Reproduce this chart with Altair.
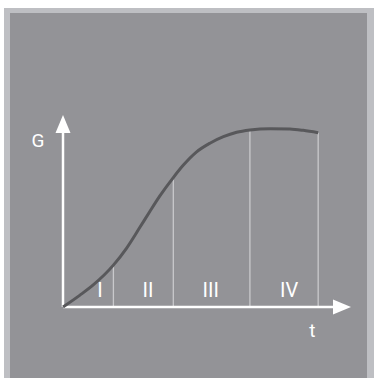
import altair as alt
import pandas as pd

# Growth curve G(t) sampled along the time axis
curve_t = [0.0, 0.59, 1.05, 1.75, 2.21, 2.67, 3.02, 3.37, 3.83, 4.18, 4.64,
           5.10, 5.57, 6.03, 6.49, 7.19, 7.88, 8.34, 8.86]
curve_g = [0.0, 0.62, 1.15, 2.18, 3.07, 4.15, 4.99, 5.80, 6.74, 7.39, 8.08,
           8.53, 8.87, 9.10, 9.22, 9.29, 9.27, 9.20, 9.08]

# Phase boundaries (drawn from the axis up to the curve)
divider_t = [1.75, 3.83, 6.49, 8.86]
divider_g = [2.18, 6.74, 9.22, 9.08]

# Phase labels
phase_names = ["I", "II", "III", "IV"]
phase_t = [1.28, 2.95, 5.13, 7.85]

W, H = 374, 378
# pixel position of the origin and pixels per data unit
OX, OY = 63, 307
PX_T, PX_G = 28.8, 19.2
AXIS_END = 10.0  # arrow tips on both axes

x_scale = alt.Scale(domain=[-OX / PX_T, (W - OX) / PX_T], nice=False, zero=False)
y_scale = alt.Scale(domain=[(OY - H) / PX_G, OY / PX_G], nice=False, zero=False)

DARK = "#939397"
LIGHT = "#bebfc3"
CURVE = "#58585b"
FONT = "Roboto"

curve_df = pd.DataFrame({"t": curve_t, "G": curve_g})
div_df = pd.DataFrame({"t": divider_t, "G": divider_g, "g0": [0.0] * 4})
lab_df = pd.DataFrame({"name": phase_names, "t": phase_t, "G": [0.52] * 4})

X = lambda f="t": alt.X(f"{f}:Q", scale=x_scale, axis=None)
Y = lambda f="G": alt.Y(f"{f}:Q", scale=y_scale, axis=None)


def px_t(px):
    return (px - OX) / PX_T


def px_g(py):
    return (OY - py) / PX_G


def box(x1, x2, y1, y2, color):
    df = pd.DataFrame({"t": [px_t(x1)], "t2": [px_t(x2)],
                       "G": [px_g(y1)], "G2": [px_g(y2)]})
    return alt.Chart(df).mark_rect(color=color).encode(
        x=X(), x2="t2:Q", y=Y(), y2="G2:Q")


# light frame with the dark panel inside it, open at the bottom
frame = box(4, W, 8, H, LIGHT)
panel = box(10, 367, 13, H, DARK)

dividers = alt.Chart(div_df).mark_rule(color="#c9c9cc", strokeWidth=1.3).encode(
    x=X(), y=Y("g0"), y2="G:Q")

curve = alt.Chart(curve_df).mark_line(
    color=CURVE, strokeWidth=3, interpolate="monotone").encode(x=X(), y=Y())

# axes with arrowheads
ARROW = 18  # arrowhead length in px
head_t = AXIS_END - ARROW / PX_T
head_g = AXIS_END - ARROW / PX_G
axes_df = pd.DataFrame({
    "t": [0.0, 0.0], "t2": [head_t, 0.0],
    "G": [0.0, 0.0], "G2": [0.0, head_g],
})
axes = alt.Chart(axes_df).mark_rule(color="white", strokeWidth=2.5).encode(
    x=X(), x2="t2:Q", y=Y(), y2="G2:Q")

head_x = alt.Chart(pd.DataFrame({"t": [AXIS_END - ARROW / 2 / PX_T], "G": [0.0]})).mark_point(
    shape="M-1,-0.8333L1,0L-1,0.8333Z", size=ARROW ** 2, filled=True,
    color="white", opacity=1).encode(x=X(), y=Y())
head_y = alt.Chart(pd.DataFrame({"t": [0.0], "G": [AXIS_END - ARROW / 2 / PX_G]})).mark_point(
    shape="M-0.8333,1L0,-1L0.8333,1Z", size=ARROW ** 2, filled=True,
    color="white", opacity=1).encode(x=X(), y=Y())

labels = alt.Chart(lab_df).mark_text(
    color="white", font=FONT, fontSize=20, fontWeight=400,
    align="center", baseline="alphabetic").encode(x=X(), y=Y(), text="name:N")

axis_titles = alt.Chart(pd.DataFrame({
    "name": ["G", "t"], "t": [-0.87, 8.66], "G": [8.33, -1.56]})).mark_text(
    color="white", font=FONT, fontSize=19, fontWeight=400,
    align="center", baseline="alphabetic").encode(x=X(), y=Y(), text="name:N")

chart = alt.layer(
    frame, panel, dividers, axes, head_x, head_y, curve, labels, axis_titles
).properties(
    width=W, height=H, background="white", padding=0,
    autosize=alt.AutoSizeParams(type="none"),
).configure_view(stroke=None)

chart.save("out.html", embed_options={"renderer": "svg", "actions": False})
